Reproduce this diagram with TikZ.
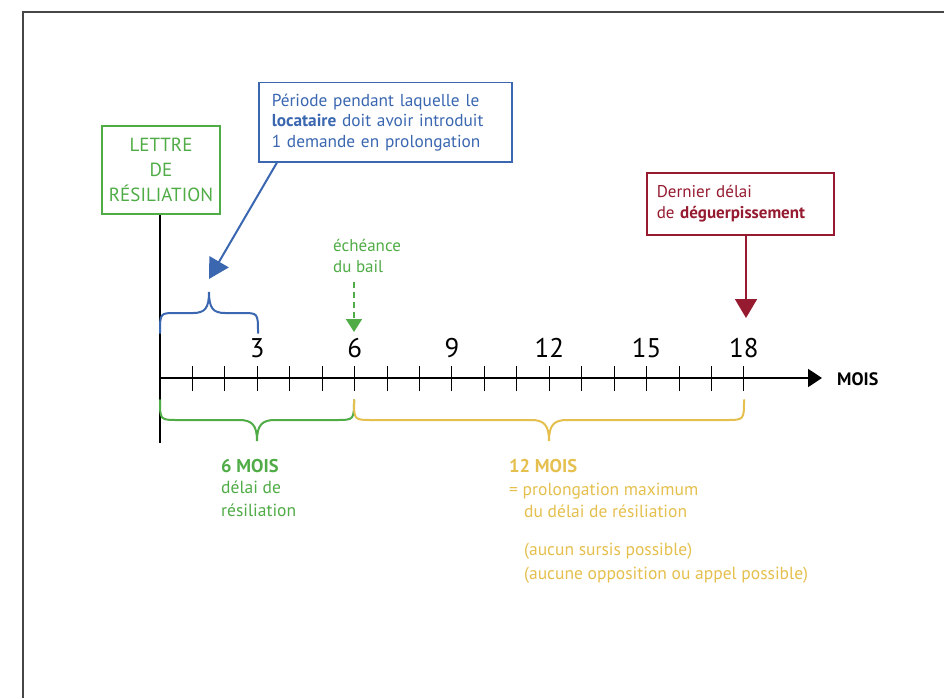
\documentclass[tikz,border=0pt]{standalone}
\usepackage{fontspec}
\setmainfont{PT Sans}
\usetikzlibrary{arrows.meta,calc}
\definecolor{cgreen}{RGB}{80,172,70}
\definecolor{cblue}{RGB}{58,103,176}
\definecolor{cred}{RGB}{150,27,48}
\definecolor{cyellow}{RGB}{229,192,78}
\definecolor{cframe}{RGB}{70,70,70}
\tikzset{
  greenbox/.style={draw=cgreen, line width=2pt, text=cgreen, align=center, inner sep=0pt,
    minimum width=118pt, minimum height=88pt, font=\fontsize{19}{25}\selectfont},
  bluebox/.style={draw=cblue, line width=1.5pt, text=cblue, align=left, inner xsep=13pt, inner ysep=0pt,
    minimum height=79pt, text width=227pt, font=\fontsize{17.3}{20.5}\selectfont},
  redbox/.style={draw=cred, line width=1.5pt, text=cred, align=left, inner xsep=10pt, inner ysep=0pt,
    minimum height=62pt, text width=167pt, font=\fontsize{17}{21}\selectfont},
  axisline/.style={line width=1.8pt, black},
  tick/.style={line width=1pt, black},
  num/.style={font=\fontsize{27}{27}\selectfont, inner sep=0pt},
  brace/.style={line width=2pt, line cap=round},
  txt/.style={inner sep=0pt, align=left, anchor=north west},
}
\begin{document}
\begin{tikzpicture}[x=1pt,y=-1pt]
\useasboundingbox (0,0) rectangle (944,698);
\fill[white] (0,0) rectangle (944,698);
% frame
\draw[cframe, line width=1.5pt] (23,698) -- (23,12) -- (944,12);

% green box and vertical line
\node[greenbox] (lettre) at (161,170) {LETTRE\\DE\\RÉSILIATION};
\coordinate (vbot) at (160,443);
\draw[line width=2pt, black] (lettre.south -| vbot) -- (vbot);

% axis
\coordinate (ax0) at (160,378);
\coordinate (axend) at (822,378);
\draw[axisline, -{Triangle[length=14pt,width=18pt]}] (ax0) -- (axend);
\foreach \m in {1,...,18} {
  \draw[tick] (160+32.44*\m,366) -- (160+32.44*\m,391);
}
\foreach \m in {3,6,9,12,15,18} {
  \node[num] (n\m) at (160+32.44*\m,348) {\m};
}
\node[anchor=west, inner sep=0pt, font=\fontsize{18}{18}\selectfont\bfseries] (mois) at (837,379) {MOIS};

% blue box, arrow and brace
\node[bluebox, anchor=north west] (period) at (258,82) {Période pendant laquelle le\\\textbf{locataire} doit avoir introduit\\1 demande en prolongation};
\coordinate (btip) at (209,279);
\draw[cblue, line width=2pt, -{Triangle[length=20pt,width=22pt]}] ($(period.south west)+(19,0)$) -- (btip);
\draw[cblue, brace] (160,333) .. controls (160,313) .. (176,313) -- (193,313)
  .. controls (205,313) and (209,308) .. (209,292)
  .. controls (209,308) and (213,313) .. (225,313) -- (242,313)
  .. controls (258,313) .. (258,333);

% green dashed arrow
\node[txt, text=cgreen, font=\fontsize{17}{21}\selectfont] (echeance) at (333,239) {échéance\\du bail};
\coordinate (gtop) at (354,282);
\coordinate (gtip) at (354,332);
\draw[cgreen, line width=1.8pt, dash pattern=on 6pt off 4pt, -{Triangle[length=13pt,width=16pt]}] (gtop) -- (gtip);

% red box and arrow
\node[redbox, anchor=north west] (dernier) at (646,172) {Dernier délai\\de \textbf{déguerpissement}};
\coordinate (rtip) at (746,318);
\draw[cred, line width=1.8pt, -{Triangle[length=19pt,width=22pt]}] (dernier.south -| rtip) -- (rtip);

% green brace (below)
\draw[cgreen, brace] (160,400) .. controls (160,420) .. (178,420) -- (239,420)
  .. controls (252,420) and (257,425) .. (257,441)
  .. controls (257,425) and (262,420) .. (275,420) -- (336,420)
  .. controls (354,420) .. (354,400);
% yellow brace
\draw[cyellow, brace] (354,400) .. controls (354,420) .. (372,420) -- (531,420)
  .. controls (544,420) and (549,425) .. (549,441)
  .. controls (549,425) and (554,420) .. (567,420) -- (726,420)
  .. controls (744,420) .. (744,400);

% bottom texts
\node[txt, text=cgreen, font=\fontsize{18.5}{18.5}\selectfont\bfseries] (six) at (221,459) {6 MOIS};
\node[txt, text=cgreen, font=\fontsize{17.5}{23}\selectfont] (delai) at (221,481) {délai de\\résiliation};
\node[txt, text=cyellow, font=\fontsize{18.5}{18.5}\selectfont\bfseries] (douze) at (509,459) {12 MOIS};
\node[txt, text=cyellow, font=\fontsize{17.5}{22}\selectfont] (prolong) at (509,483) {= prolongation maximum\\\hspace*{15pt}du délai de résiliation};
\node[txt, text=cyellow, font=\fontsize{17.5}{24}\selectfont] (aucun) at (524,543) {(aucun sursis possible)\\(aucune opposition ou appel possible)};
\end{tikzpicture}
\end{document}
